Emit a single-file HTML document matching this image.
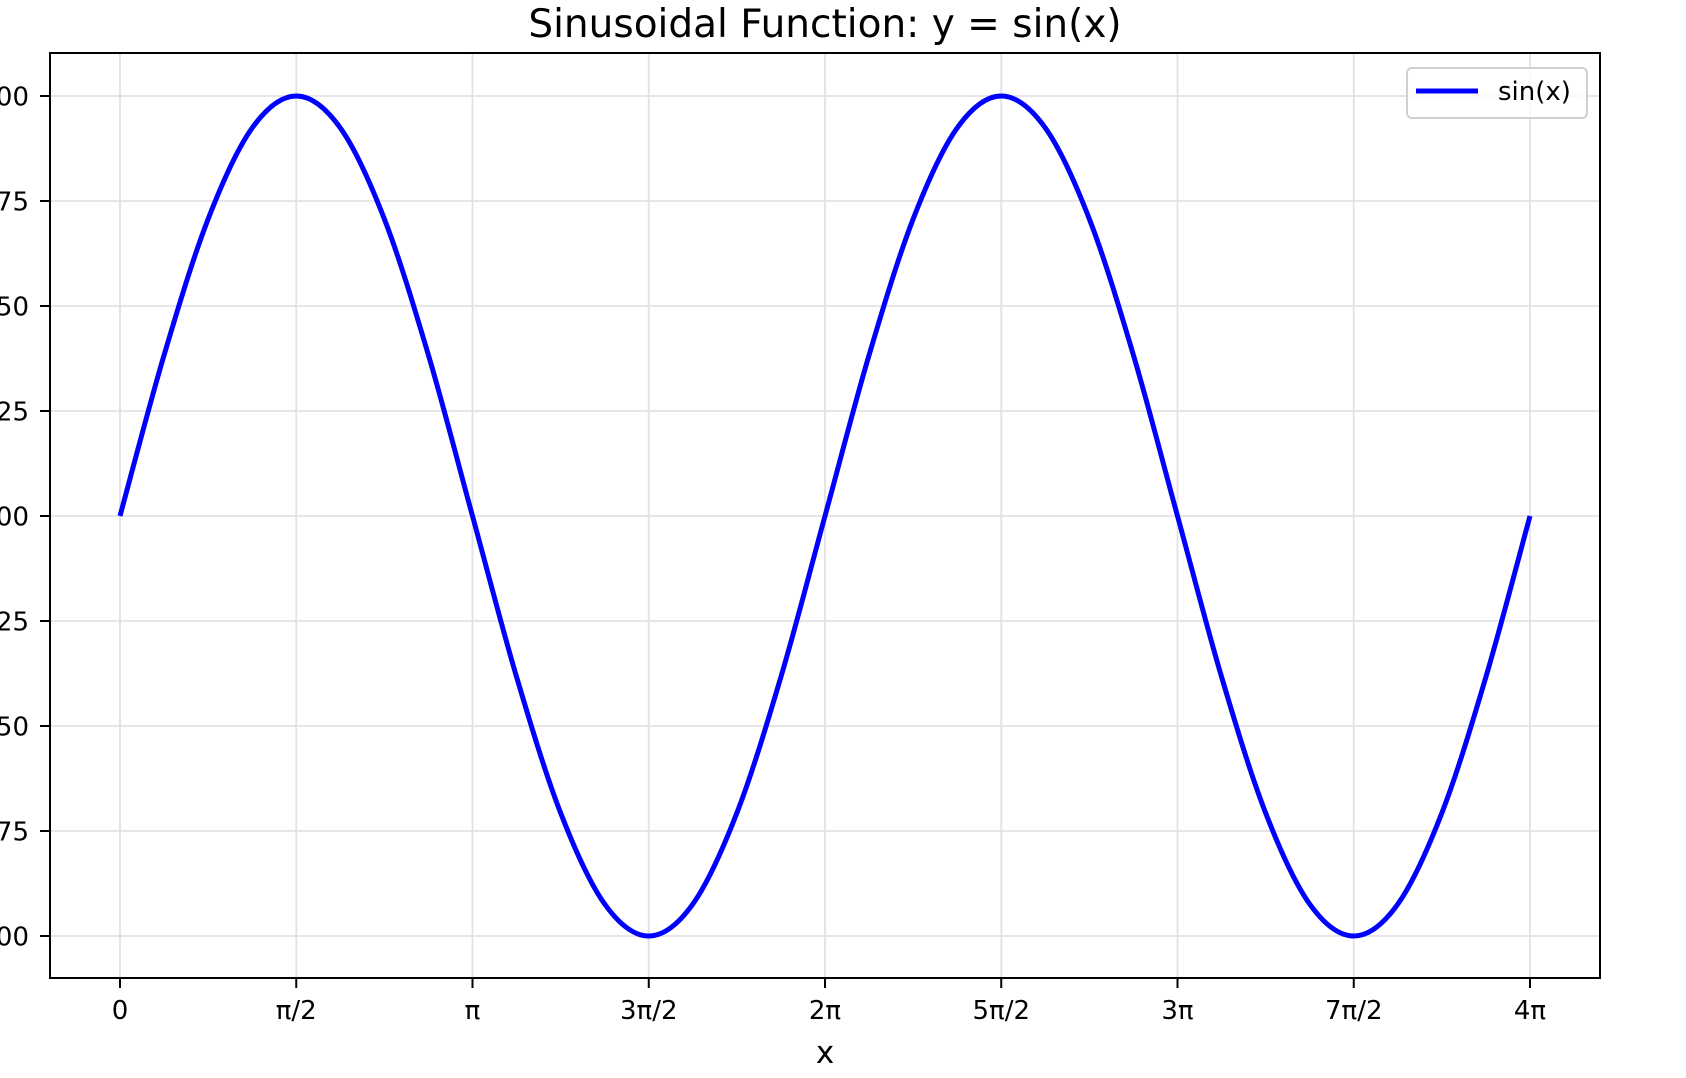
<!DOCTYPE html>
<html><head><meta charset="utf-8"><style>
html,body{margin:0;padding:0;background:#fff;}
svg{display:block;font-family:"DejaVu Sans","Liberation Sans",sans-serif;}
</style></head><body>
<svg id="chart" width="1686" height="1078" viewBox="0 0 1686 1078">
<text x="825" y="37" font-size="39" text-anchor="middle" fill="#000">Sinusoidal Function: y = sin(x)</text>
<g id="grid"></g>
<g id="series"></g>
<rect x="50" y="53" width="1550" height="925" fill="none" stroke="#000" stroke-width="2"/>
<g id="axes"></g>
<text x="825" y="1063" font-size="31" text-anchor="middle" fill="#000">x</text>
<g>
<rect x="1407" y="68" width="180" height="50" rx="5" fill="#fff" fill-opacity="0.8" stroke="#d0d0d0" stroke-width="2"/>
<line x1="1416" y1="91" x2="1478" y2="91" stroke="#0000ff" stroke-width="5"/>
<text x="1498" y="100" font-size="26" fill="#000">sin(x)</text>
</g>
</svg>
<script>
const xMultiples = [0,1,2,3,4,5,6,7,8,9,10,11,12,13,14,15,16,17,18,19,20,21,22,23,24,25,26,27,28,29,30,31,32]; // units of pi/8
const yValues = [0,0.383,0.707,0.924,1,0.924,0.707,0.383,0,-0.383,-0.707,-0.924,-1,-0.924,-0.707,-0.383,0,0.383,0.707,0.924,1,0.924,0.707,0.383,0,-0.383,-0.707,-0.924,-1,-0.924,-0.707,-0.383,0];
const xTickMultiples = [0,4,8,12,16,20,24,28,32];
const xTickLabels = ["0","π/2","π","3π/2","2π","5π/2","3π","7π/2","4π"];
const yTicks = [1,0.75,0.5,0.25,0,-0.25,-0.5,-0.75,-1];
const yTickLabels = ["1.00","0.75","0.50","0.25","0.00","−0.25","−0.50","−0.75","−1.00"];

const NS="http://www.w3.org/2000/svg";
const X0=120, X1=1530, Y1=96, Ym1=936;
function sx(m){return X0+(m/32)*(X1-X0);}
function sy(v){return (Y1+Ym1)/2-v*(Ym1-Y1)/2;}
function mk(tag,attrs,parent){const e=document.createElementNS(NS,tag);for(const k in attrs)e.setAttribute(k,attrs[k]);parent.appendChild(e);return e;}
const grid=document.getElementById('grid'), axes=document.getElementById('axes'), series=document.getElementById('series');

xTickMultiples.forEach((m,i)=>{
  const x=sx(m);
  const g=mk('line',{x1:x,y1:53,x2:x,y2:978,stroke:'#e2e2e2','stroke-width':1.8},grid);
  
  
  const t=mk('line',{x1:x,y1:978,x2:x,y2:988,stroke:'#000','stroke-width':2},axes);
  
  
  const l=mk('text',{x:x,y:1019,'font-size':26,'text-anchor':'middle',fill:'#000'},axes);
  l.textContent=xTickLabels[i];
  
  
});
yTicks.forEach((v,i)=>{
  const y=sy(v);
  const g=mk('line',{x1:50,y1:y,x2:1600,y2:y,stroke:'#e2e2e2','stroke-width':1.8},grid);
  
  
  const t=mk('line',{x1:40,y1:y,x2:50,y2:y,stroke:'#000','stroke-width':2},axes);
  
  
  const l=mk('text',{x:29,y:y+9.5,'font-size':26,'text-anchor':'end',fill:'#000'},axes);
  l.textContent=yTickLabels[i];
  
  
});

const pts=xMultiples.map((m,i)=>[sx(m),sy(yValues[i])]);
let d=`M${pts[0][0]},${pts[0][1]}`;
for(let i=0;i<pts.length-1;i++){
  const p0=pts[Math.max(i-1,0)],p1=pts[i],p2=pts[i+1],p3=pts[Math.min(i+2,pts.length-1)];
  const c1=[p1[0]+(p2[0]-p0[0])/6,p1[1]+(p2[1]-p0[1])/6];
  const c2=[p2[0]-(p3[0]-p1[0])/6,p2[1]-(p3[1]-p1[1])/6];
  d+=` C${c1[0]},${c1[1]} ${c2[0]},${c2[1]} ${p2[0]},${p2[1]}`;
}
const path=mk('path',{d:d,fill:'none',stroke:'#0000ff','stroke-width':5,'stroke-linejoin':'round'},series);


</script>
</body></html>
